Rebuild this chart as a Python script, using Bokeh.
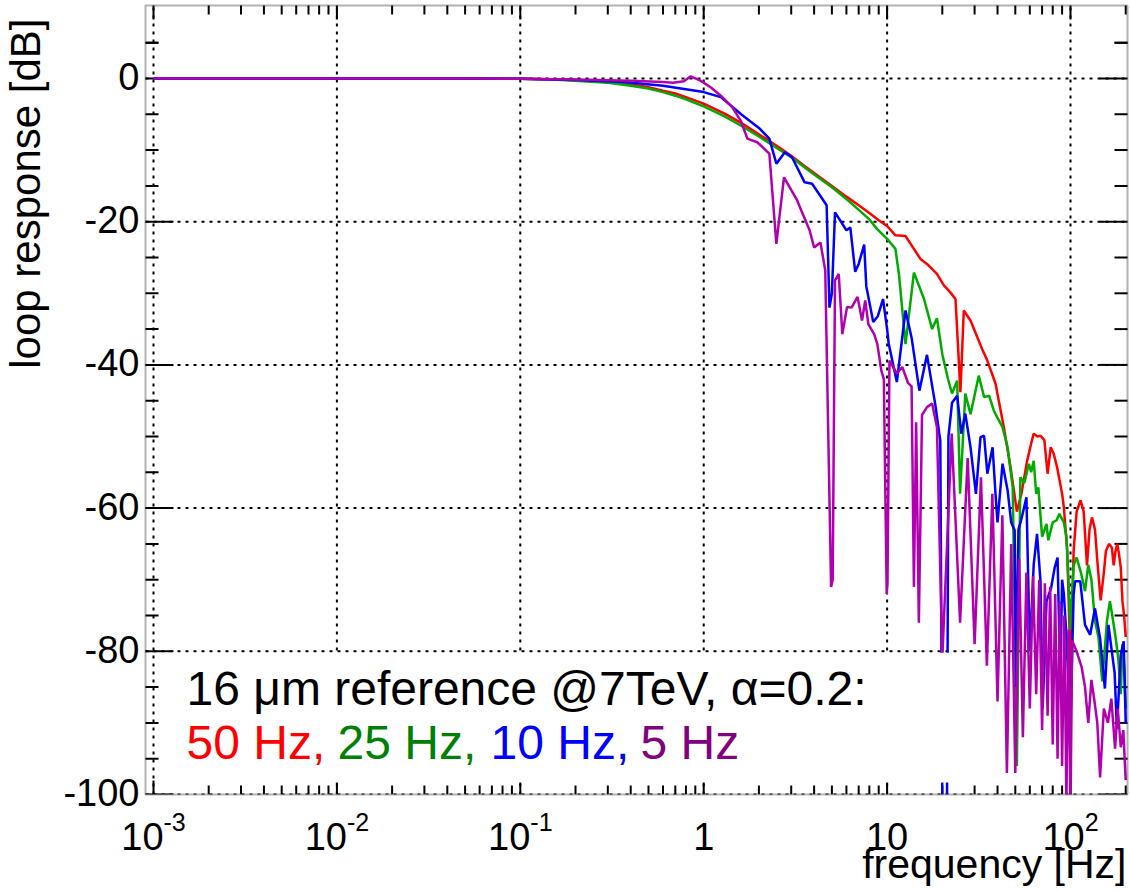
import math
from bokeh.plotting import figure
from bokeh.models import Range1d, Label, BoxAnnotation
from bokeh.embed import file_html
from bokeh.resources import INLINE

# ---------------- data ----------------
red_f = [0.001, 0.01, 0.05, 0.1, 0.15, 0.2, 0.3, 0.4, 0.5, 0.6,
         0.7, 0.8, 1.0, 1.3, 1.6, 2.0, 2.5, 3.0, 3.5, 4.0,
         5.0, 6.0, 7.0, 8.0, 9.0, 10.0, 11.1, 12.6, 14.0, 15.2,
         16.5, 18.7, 20.4, 22.0, 23.6, 24.6, 25.1, 26.2, 28.5, 31.0,
         33.0, 35.2, 39.0, 43.3, 47.1, 49.1, 51.0, 54.0, 58.0, 61.0,
         63.0, 66.0, 68.6, 72.0, 75.0, 78.0, 81.0, 84.5, 90.0, 92.0,
         96.0, 99.0, 100.0, 101.0, 104.0, 108.0, 113.5, 118.0, 123.0, 127.0,
         131.0, 136.0, 140.0, 146.0, 152.0, 156.0, 162.0, 168.0, 172.0, 176.0,
         180.0, 184.0, 188.0, 192.0, 196.0, 200.0]
red_db = [0, 0, 0, -0.05, -0.12, -0.25, -0.5, -0.85, -1.2, -1.7,
          -2.1, -2.6, -3.5, -4.9, -6.2, -7.8, -9.4, -10.8, -12.1, -13.2,
          -15.0, -16.5, -17.7, -18.8, -19.8, -20.6, -21.9, -22.0, -23.8, -25.2,
          -25.9, -27.3, -28.9, -29.8, -30.8, -39.4, -43.8, -32.4, -33.8, -36.1,
          -37.8, -39.4, -42.6, -48.7, -54.3, -57.5, -60.5, -58.0, -53.4, -51.0,
          -49.6, -50.0, -49.9, -50.5, -55.2, -51.5, -52.4, -54.3, -58.0, -59.9,
          -66.0, -78.0, -97.8, -80.0, -66.0, -60.5, -58.9, -60.5, -68.0, -63.0,
          -61.3, -63.0, -67.3, -72.9, -69.0, -66.0, -65.0, -65.5, -68.0, -66.0,
          -65.0, -66.5, -68.3, -73.0, -75.0, -78.0]

green_f = [0.001, 0.01, 0.05, 0.1, 0.15, 0.2, 0.3, 0.4, 0.5, 0.6,
           0.7, 0.8, 1.0, 1.3, 1.6, 2.0, 2.5, 3.0, 3.5, 4.0,
           5.0, 6.3, 7.95, 8.8, 10.0, 11.1, 11.6, 12.6, 14.0, 15.9,
           17.6, 18.7, 20.0, 21.5, 22.6, 24.1, 25.0, 26.7, 28.5, 31.6,
           33.8, 36.0, 38.2, 39.8, 42.6, 45.4, 48.4, 50.0, 51.0, 53.3,
           56.0, 59.3, 61.0, 63.0, 65.0, 66.8, 70.0, 74.0, 75.7, 80.0,
           84.0, 87.0, 92.0, 95.0, 97.5, 100.0, 104.0, 108.0, 114.0, 120.0,
           125.0, 130.0, 136.0, 142.0, 149.0, 158.0, 164.0, 169.0, 176.0, 182.0,
           188.0, 192.0, 196.0, 200.0]
green_db = [0, 0, 0, -0.05, -0.15, -0.3, -0.6, -1.0, -1.4, -1.9,
            -2.4, -2.9, -3.9, -5.3, -6.6, -8.1, -9.7, -11.0, -12.3, -13.4,
            -15.2, -17.3, -19.6, -21.0, -22.4, -23.8, -27.3, -37.1, -27.1, -30.8,
            -35.0, -33.5, -38.5, -42.0, -44.0, -42.2, -58.0, -44.0, -46.9, -41.5,
            -44.5, -44.3, -46.4, -47.3, -48.7, -51.5, -57.1, -80.0, -96.0, -55.7,
            -56.5, -53.8, -55.0, -53.4, -58.0, -57.1, -64.0, -62.2, -64.5, -62.0,
            -61.7, -60.8, -62.0, -64.0, -70.2, -77.0, -68.0, -66.9, -69.0, -71.6,
            -67.9, -70.0, -75.8, -78.0, -84.2, -75.8, -73.0, -75.0, -78.0, -80.9,
            -86.0, -79.0, -82.0, -88.0]

blue_f = [0.001, 0.01, 0.05, 0.1, 0.2, 0.37, 0.6, 1.0, 1.24, 1.6,
          2.0, 2.28, 2.49, 2.77, 3.03, 3.55, 3.9, 4.3, 4.68, 4.85,
          5.0, 5.2, 6.0, 6.3, 6.7, 7.0, 7.5, 7.7, 8.4, 8.9,
          9.5, 10.0, 10.2, 11.3, 12.6, 13.6, 15.0, 16.5, 18.3, 19.5,
          20.3, 21.0, 21.6, 22.6, 24.1, 25.4, 26.7, 28.5, 30.5, 32.3,
          33.8, 35.2, 37.6, 39.0, 40.0, 42.6, 45.4, 47.5, 49.6, 50.5,
          52.0, 53.8, 57.5, 60.0, 63.0, 65.7, 68.6, 70.5, 74.0, 78.5,
          82.0, 85.0, 88.0, 90.0, 92.0, 95.0, 98.0, 100.5, 104.0, 106.0,
          113.0, 120.0, 128.0, 136.0, 145.0, 154.0, 161.0, 168.0, 174.0, 179.0,
          188.0, 195.0, 200.0]
blue_db = [0, 0, 0, -0.05, -0.2, -0.5, -1.0, -1.9, -2.6, -5.0,
           -6.9, -8.4, -11.9, -10.3, -11.0, -14.5, -14.7, -16.3, -17.7, -32.0,
           -30.0, -18.7, -21.2, -20.8, -27.0, -25.9, -23.2, -29.0, -34.0, -33.2,
           -30.8, -35.0, -37.0, -42.4, -32.4, -36.2, -43.6, -38.6, -45.5, -50.6,
           -130.0, -130.0, -50.0, -45.3, -44.3, -49.6, -46.8, -51.5, -58.0, -50.1,
           -49.9, -55.2, -51.5, -58.0, -62.0, -53.8, -57.5, -62.0, -63.1, -85.0,
           -63.0, -61.7, -58.5, -80.0, -67.9, -63.6, -70.2, -88.0, -73.0, -71.1,
           -68.3, -66.9, -84.0, -70.0, -72.0, -77.7, -86.0, -88.0, -72.0, -70.2,
           -70.2, -76.3, -77.7, -74.0, -78.2, -85.2, -76.3, -80.0, -83.0, -90.8,
           -80.5, -78.6, -90.0]

purple_f = [0.001, 0.01, 0.05, 0.1, 0.2, 0.4, 0.6, 0.68, 0.78, 0.85,
            0.96, 1.1, 1.24, 1.43, 1.6, 1.73, 1.96, 2.28, 2.49, 2.74,
            3.23, 3.4, 3.78, 4.0, 4.33, 4.6, 4.95, 5.05, 5.2, 5.45,
            5.7, 6.05, 6.4, 6.9, 7.3, 7.6, 7.9, 8.5, 8.85, 9.3,
            9.6, 9.95, 10.05, 10.3, 11.3, 12.1, 13.0, 13.6, 14.0, 14.4,
            14.9, 15.5, 16.5, 17.6, 18.7, 20.0, 22.5, 25.0, 27.5, 30.0,
            32.5, 35.0, 37.5, 40.0, 42.5, 45.0, 47.5, 50.0, 52.5, 55.0,
            57.5, 60.0, 62.5, 65.0, 67.5, 70.0, 72.5, 75.0, 77.5, 80.0,
            82.5, 85.0, 87.5, 90.0, 92.5, 95.0, 97.5, 100.0, 102.0, 108.0,
            115.0, 120.0, 125.0, 130.0, 135.0, 140.0, 145.0, 152.0, 160.0, 167.0,
            175.0, 181.0, 188.0, 194.0, 200.0]
purple_db = [0, 0, 0, -0.05, -0.15, -0.3, -0.5, -0.6, -0.4, 0.3,
             -0.3, -1.3, -2.4, -4.0, -6.0, -8.4, -8.9, -10.5, -23.1, -13.8,
             -17.0, -18.4, -21.2, -23.6, -22.9, -26.8, -71.0, -70.0, -28.2, -27.3,
             -35.7, -31.9, -32.0, -30.5, -33.8, -31.0, -34.3, -35.7, -37.1, -40.8,
             -42.0, -72.0, -70.5, -39.4, -41.2, -40.3, -42.5, -43.0, -71.0, -48.0,
             -76.0, -47.0, -45.9, -45.4, -48.7, -81.0, -49.6, -76.0, -53.0, -79.0,
             -55.7, -82.0, -58.0, -87.0, -61.0, -97.0, -65.0, -97.0, -67.0, -92.0,
             -69.0, -88.0, -69.5, -86.0, -70.0, -91.0, -70.5, -89.0, -71.0, -93.0,
             -72.0, -95.0, -73.0, -96.0, -75.0, -101.0, -77.0, -103.0, -78.5, -80.0,
             -82.2, -85.0, -90.0, -84.0, -86.9, -90.0, -97.6, -88.0, -90.0, -86.6,
             -93.6, -88.0, -93.4, -91.0, -98.0]

x_major = [0.001, 0.01, 0.1, 1, 10, 100]
x_tick_base = ["10", "10", "10", "1", "10", "10"]
x_tick_exp = ["-3", "-2", "-1", "", "", "2"]
y_major = [-100, -80, -60, -40, -20, 0]
y_tick_labels = ["-100", "-80", "-60", "-40", "-20", "0"]

legend_head = "16 \u03bcm reference @7TeV, \u03b1=0.2:"
legend_items = ["50 Hz,", "25 Hz,", "10 Hz,", "5 Hz"]
line_colors = ["#ff0000", "#00aa00", "#0000ff", "#b000b0"]
text_colors = ["#ff0000", "#008000", "#0000ff", "#800080"]

# ---------------- layout (canvas pixels) ----------------
FONT = "Liberation Sans"
W, H = 1130, 892
FL, FR, FT, FB = 145, 1127, 5, 794     # drawn frame
X0PX, DEC = 153, 183.4                  # pixel of 1e-3, pixels per decade
Y0PX, PXDB = 78, 7.16                   # pixel of 0 dB, pixels per dB
SH = 0.41                               # baseline correction (fraction of font size)


def xd(px):
    return 10 ** (-3 + (px - X0PX) / DEC)


def yd(py):
    return (Y0PX - py) / PXDB


x_minor = [m * d for d in x_major for m in range(2, 10)]
y_minor = [v for v in range(-95, 10, 5) if v not in y_major]

p = figure(width=W, height=H, x_axis_type="log",
           x_range=Range1d(xd(0), xd(W)), y_range=Range1d(yd(H), yd(0)),
           x_axis_location=None, y_axis_location=None,
           output_backend="svg", toolbar_location=None,
           min_border=0)
p.background_fill_color = "white"
p.border_fill_color = "white"
p.outline_line_color = None
p.grid.visible = False

# dotted grid inside the frame
p.segment(x0=x_major, x1=x_major, y0=[-100] * len(x_major), y1=[yd(FT)] * len(x_major),
          line_color="black", line_width=2, line_dash="3 5")
p.segment(x0=[xd(FL)] * len(y_major), x1=[xd(FR)] * len(y_major), y0=y_major, y1=y_major,
          line_color="black", line_width=2, line_dash="3 5")


# inward ticks on all four sides
def xticks(vals, length):
    n = len(vals)
    p.segment(x0=vals, x1=vals, y0=[-100] * n, y1=[yd(FB - length)] * n,
              line_color="black", line_width=2)
    p.segment(x0=vals, x1=vals, y0=[yd(FT)] * n, y1=[yd(FT + length)] * n,
              line_color="black", line_width=2)


def yticks(vals, length):
    n = len(vals)
    p.segment(x0=[xd(FL)] * n, x1=[xd(FL + length)] * n, y0=vals, y1=vals,
              line_color="black", line_width=2)
    p.segment(x0=[xd(FR)] * n, x1=[xd(FR - length)] * n, y0=vals, y1=vals,
              line_color="black", line_width=2)


xticks(x_major, 14)
xticks(x_minor, 9)
yticks(y_major, 28)
yticks(y_minor + [5], 13)

# curves
for fs, dbs, c in zip([red_f, green_f, blue_f, purple_f],
                      [red_db, green_db, blue_db, purple_db], line_colors):
    p.line(fs, dbs, line_color=c, line_width=2.5)

# clip below the frame, white box behind legend text, frame outline
p.add_layout(BoxAnnotation(left=xd(0), right=xd(W), top=-100, bottom=yd(H),
                           fill_color="white", fill_alpha=1.0, line_color=None))
p.add_layout(BoxAnnotation(left=xd(160), right=xd(970), top=-80.2, bottom=yd(782),
                           fill_color="white", fill_alpha=1.0, line_color=None))
p.add_layout(BoxAnnotation(left=xd(FL), right=xd(FR), top=yd(FT), bottom=-100,
                           fill_color=None, fill_alpha=0.0, line_color="black",
                           line_width=2))


def lab(x, y, text, size, color="black", align="left", angle=0.0, x_offset=0.0):
    p.add_layout(Label(x=x, y=y, text=text, text_font=FONT,
                       text_font_size=f"{size}px", text_color=color,
                       text_align=align, text_baseline="alphabetic",
                       angle=angle, x_offset=x_offset))


# y tick labels (digit centre on the tick)
YS = 38
for v, t in zip(y_major, y_tick_labels):
    base_px = (Y0PX - PXDB * v) + 0.358 * YS
    lab(xd(139), yd(base_px - SH * YS), t, YS, align="right")

# x tick labels with superscripts
XS, SS = 38, 25
CW = {"-": 0.333}
for v, b, e in zip(x_major, x_tick_base, x_tick_exp):
    bw = 0.556 * len(b) * XS
    ew = sum(CW.get(ch, 0.556) for ch in e) * SS
    tot = bw + ew
    lab(v, yd(851.7 - SH * XS), b, XS, x_offset=-tot / 2)
    if e:
        lab(v, yd(831.7 - SH * SS), e, SS, x_offset=-tot / 2 + bw)

# axis titles
lab(xd(1126), yd(880 - SH * 41), "frequency [Hz]", 41, align="right")
lab(xd(42 - SH * 42), yd(18), "loop response [dB]", 42, align="right", angle=math.pi / 2)

# legend text
LS = 48
lab(xd(186), yd(708 - SH * LS), legend_head, LS)
for t, c, px in zip(legend_items, text_colors, [186, 337, 490, 640]):
    lab(xd(px), yd(762 - SH * LS), t, LS, color=c)

open("out.html", "w").write(file_html(p, INLINE))
